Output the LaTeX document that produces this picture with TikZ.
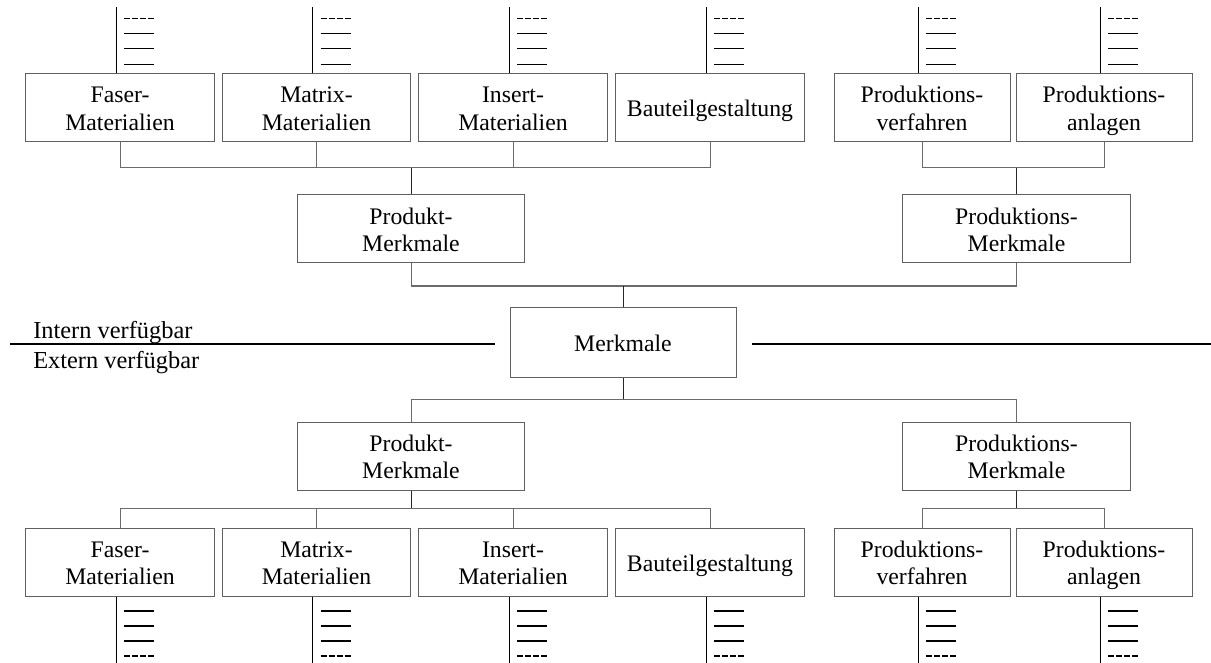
\documentclass[tikz,border=0pt]{standalone}
\usepackage{fontspec}
\setmainfont{Liberation Serif}
\usetikzlibrary{calc}

% struts that fix where the baselines sit inside the boxes
\newcommand\twolines[2]{\rule{0pt}{17pt}#1\\#2\rule[-4.2pt]{0pt}{4.2pt}}
\newcommand\oneline[1]{\rule[-4.2pt]{0pt}{21.2pt}#1}

\tikzset{
  box/.style={draw=black!62, line width=0.75pt, fill=white, inner sep=0pt,
    align=center, minimum height=51pt, font=\fontsize{17.8pt}{20.3pt}\selectfont},
  matbox/.style={box, minimum width=141.5pt},
  prodbox/.style={box, minimum width=132pt},
  groupbox/.style={box, minimum width=170.5pt},
  conn/.style={draw=black!58, line width=0.75pt},
  stub/.style={draw=black!85, line width=0.75pt},
  stem/.style={draw=black, line width=0.75pt},
  entry/.style={draw=black, line width=0.8pt},
  entrydash/.style={draw=black, line width=1pt, dash pattern=on 4.5pt off 1.5pt},
  divider/.style={draw=black, line width=1.6pt},
  side/.style={font=\fontsize{18.3pt}{21pt}\selectfont, inner sep=0pt, anchor=base west}
}

% a short list hanging above a box
\newcommand\listabove[1]{%
  \draw[stem] ($(#1.north)+(-4,0)$) -- ($(#1.north |- toprow)+(-4,0)$);
  \draw[entrydash] ($(#1.north)+(4,-55)$) -- ++(30,0);
  \draw[entry] ($(#1.north)+(4,-40)$) -- ++(30,0);
  \draw[entry] ($(#1.north)+(4,-25)$) -- ++(30,0);
  \draw[entry] ($(#1.north)+(4,-9)$) -- ++(30,0);
}
% a short list hanging below a box
\newcommand\listbelow[1]{%
  \draw[stem] ($(#1.south)+(-4,0)$) -- ($(#1.south |- botrow)+(-4,0)$);
  \draw[entry] ($(#1.south)+(4,14)$) -- ++(30,0);
  \draw[entry] ($(#1.south)+(4,29)$) -- ++(30,0);
  \draw[entry] ($(#1.south)+(4,44)$) -- ++(30,0);
  \draw[entrydash] ($(#1.south)+(4,59)$) -- ++(30,0);
}

\begin{document}
\begin{tikzpicture}[x=0.75pt, y=-0.75pt]
\useasboundingbox (0,0) rectangle (1211,663);

\coordinate (toprow) at (0,7);
\coordinate (botrow) at (0,663);

% ---------- internal side ----------
\node[matbox]  (fi) at (120,108)   {\twolines{Faser-}{Materialien}};
\node[matbox]  (mi) at (316.5,108) {\twolines{Matrix-}{Materialien}};
\node[matbox]  (ii) at (513,108)   {\twolines{Insert-}{Materialien}};
\node[matbox]  (bi) at (710,108)   {\oneline{Bauteilgestaltung}};
\node[prodbox] (vi) at (922,108)   {\twolines{Produktions-}{verfahren}};
\node[prodbox] (ai) at (1104,108)  {\twolines{Produktions-}{anlagen}};

\node[groupbox] (pmi) at (411,229)    {\twolines{Produkt-}{Merkmale}};
\node[groupbox] (rmi) at (1016.5,229) {\twolines{Produktions-}{Merkmale}};

\node[box, minimum width=169.5pt, minimum height=52pt] (mk) at (623,342.5) {\oneline{Merkmale}};

\coordinate (busPi) at (411,168);
\coordinate (busRi) at (1016.5,168);
\coordinate (busMi) at (623,286);

\foreach \n in {fi,mi,ii,bi} \draw[conn] (\n.south) |- (busPi);
\draw[stub] (busPi) -- (pmi.north);
\foreach \n in {vi,ai} \draw[conn] (\n.south) |- (busRi);
\draw[stub] (busRi) -- (rmi.north);
\draw[conn] (pmi.south) |- (busMi);
\draw[conn] (rmi.south) |- (busMi);
\draw[stub] (busMi) -- (mk.north);

\foreach \n in {fi,mi,ii,bi,vi,ai} {\listabove{\n}}

% ---------- boundary ----------
\coordinate (dl1) at (10,344);
\coordinate (dl2) at (495,344);
\coordinate (dr1) at (752,344);
\coordinate (dr2) at (1211,344);
\draw[divider] (dl1) -- (dl2);
\draw[divider] (dr1) -- (dr2);
\node[side] (intern) at (33,338) {Intern verfügbar};
\node[side] (extern) at (33,368) {Extern verfügbar};

% ---------- external side ----------
\node[groupbox] (pme) at (411,456)    {\twolines{Produkt-}{Merkmale}};
\node[groupbox] (rme) at (1016.5,456) {\twolines{Produktions-}{Merkmale}};

\node[matbox]  (fe) at (120,562.5)   {\twolines{Faser-}{Materialien}};
\node[matbox]  (me) at (316.5,562.5) {\twolines{Matrix-}{Materialien}};
\node[matbox]  (ie) at (513,562.5)   {\twolines{Insert-}{Materialien}};
\node[matbox]  (be) at (710,562.5)   {\oneline{Bauteilgestaltung}};
\node[prodbox] (ve) at (922,562.5)   {\twolines{Produktions-}{verfahren}};
\node[prodbox] (ae) at (1104,562.5)  {\twolines{Produktions-}{anlagen}};

\coordinate (busMe) at (623,399);
\coordinate (busPe) at (411,508);
\coordinate (busRe) at (1016.5,508);

\draw[stub] (mk.south) -- (busMe);
\draw[conn] (pme.north) |- (busMe);
\draw[conn] (rme.north) |- (busMe);
\draw[stub] (pme.south) -- (busPe);
\foreach \n in {fe,me,ie,be} \draw[conn] (\n.north) |- (busPe);
\draw[stub] (rme.south) -- (busRe);
\foreach \n in {ve,ae} \draw[conn] (\n.north) |- (busRe);

\foreach \n in {fe,me,ie,be,ve,ae} {\listbelow{\n}}

\end{tikzpicture}
\end{document}
